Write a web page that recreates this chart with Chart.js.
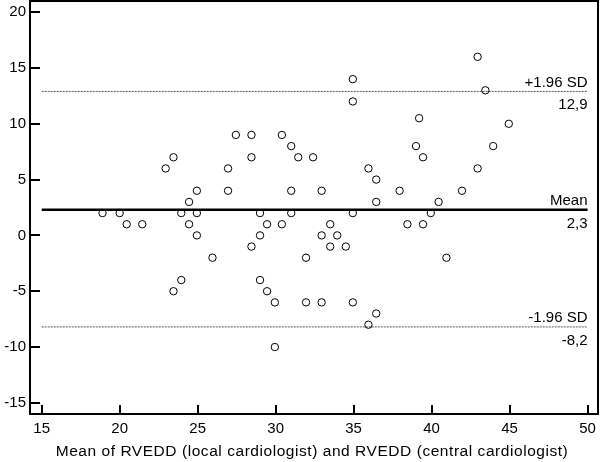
<!DOCTYPE html>
<html>
<head>
<meta charset="utf-8">
<script src="https://cdn.jsdelivr.net/npm/chart.js@4/dist/chart.umd.min.js"></script>
<style>
  html, body { margin: 0; padding: 0; background: #fff; }
  #wrap { width: 600px; height: 462px; }
</style>
</head>
<body>
<div id="wrap"><canvas id="chart" width="600" height="462"></canvas></div>
<script>
// mean of the two readings (x) and their difference (y)
const meanValues = [
  18.9, 20.0, 20.45, 21.45, 22.95, 23.45, 23.45, 23.95, 23.95, 24.45,
  24.45, 24.95, 24.95, 24.95, 25.95, 26.95, 26.95, 27.45, 28.45, 28.45,
  28.45, 29.0, 29.0, 29.0, 29.45, 29.45, 29.95, 29.95, 30.4, 30.4,
  31.0, 31.0, 31.0, 31.45, 31.95, 31.95, 32.4, 32.95, 32.95, 32.95,
  33.5, 33.5, 33.95, 34.5, 34.95, 34.95, 34.95, 34.95, 35.95, 35.95,
  36.45, 36.45, 36.45, 37.95, 38.45, 39.0, 39.2, 39.45, 39.45, 39.95,
  40.45, 40.95, 41.95, 42.95, 42.95, 43.45, 43.95, 44.95
];
const diffValues = [
  2, 2, 1, 1, 6, 7, -5, -4, 2, 3,
  1, 4, 2, 0, -2, 6, 4, 9, 9, 7,
  -1, 2, 0, -4, 1, -5, -6, -10, 9, 1,
  8, 4, 2, 7, -2, -6, 7, 4, 0, -6,
  1, -1, 0, -1, 14, 12, 2, -6, 6, -8,
  5, 3, -7, 4, 1, 8, 10.5, 7, 1, 2,
  3, -2, 4, 16, 6, 13, 8, 10
];

const meanDiff = 2.3;
const upperLimit = 12.9;
const lowerLimit = -8.2;
const lineRange = [15, 50];

const xTicks = [15, 20, 25, 30, 35, 40, 45, 50];
const yTicks = [-15, -10, -5, 0, 5, 10, 15, 20];

const limitLabels = [
  { value: upperLimit, name: "+1.96 SD", text: "12,9" },
  { value: meanDiff, name: "Mean", text: "2,3" },
  { value: lowerLimit, name: "-1.96 SD", text: "-8,2" }
];

const xTitle = "Mean of RVEDD (local cardiologist) and RVEDD (central cardiologist)";

const FONT = "'Liberation Sans', Arial, Helvetica, sans-serif";

function hLine(value) {
  return lineRange.map((x) => ({ x: x, y: value }));
}

const points = meanValues.map((x, i) => ({ x: x, y: diffValues[i] }));

// frame, inward tick marks, limit labels and axis title
const framePlugin = {
  id: "frame",
  afterDraw(chart) {
    const ctx = chart.ctx;
    const area = chart.chartArea;
    const xs = chart.scales.x;
    const ys = chart.scales.y;
    ctx.save();
    ctx.strokeStyle = "#000";
    ctx.lineWidth = 2;
    ctx.strokeRect(area.left, area.top, area.right - area.left, area.bottom - area.top);

    ctx.beginPath();
    xTicks.forEach((v) => {
      const px = Math.round(xs.getPixelForValue(v));
      ctx.moveTo(px, area.bottom);
      ctx.lineTo(px, area.bottom - 9);
    });
    yTicks.forEach((v) => {
      const py = Math.round(ys.getPixelForValue(v));
      ctx.moveTo(area.left, py);
      ctx.lineTo(area.left + 10, py);
    });
    ctx.stroke();

    ctx.fillStyle = "#000";
    ctx.font = "15px " + FONT;
    ctx.textAlign = "right";
    ctx.textBaseline = "alphabetic";
    const rx = xs.getPixelForValue(lineRange[1]);
    limitLabels.forEach((l) => {
      const py = ys.getPixelForValue(l.value);
      ctx.fillText(l.name, rx, py - 4.5);
      ctx.fillText(l.text, rx, py + 18);
    });

    ctx.font = "15.5px " + FONT;
    ctx.letterSpacing = "0.55px";
    ctx.textAlign = "center";
    ctx.fillText(xTitle, 312, 456);
    ctx.restore();
  }
};

const ctx = document.getElementById("chart").getContext("2d");
new Chart(ctx, {
  type: "scatter",
  data: {
    datasets: [
      {
        data: points,
        pointStyle: "circle",
        pointRadius: 3.7,
        pointHoverRadius: 3.7,
        backgroundColor: "rgba(0,0,0,0)",
        borderColor: "#000",
        borderWidth: 1
      },
      {
        type: "line",
        data: hLine(meanDiff),
        borderColor: "#000",
        borderWidth: 2.5,
        pointRadius: 0
      },
      {
        type: "line",
        data: hLine(upperLimit),
        borderColor: "#555",
        borderWidth: 1,
        borderDash: [2, 1],
        pointRadius: 0
      },
      {
        type: "line",
        data: hLine(lowerLimit),
        borderColor: "#555",
        borderWidth: 1,
        borderDash: [2, 1],
        pointRadius: 0
      }
    ]
  },
  options: {
    responsive: false,
    animation: false,
    events: [],
    layout: {
      autoPadding: false,
      padding: { top: 1, right: 2, left: 0, bottom: 0 }
    },
    plugins: {
      legend: { display: false },
      tooltip: { enabled: false }
    },
    scales: {
      x: {
        type: "linear",
        min: 14.25,
        max: 50.67,
        grid: { display: false, drawTicks: false },
        border: { display: false },
        afterBuildTicks: (scale) => {
          scale.ticks = xTicks.map((v) => ({ value: v }));
        },
        afterFit: (scale) => {
          scale.height = 48;
          scale.paddingLeft = 0;
          scale.paddingRight = 0;
        },
        ticks: {
          color: "#000",
          padding: 6,
          maxRotation: 0,
          font: { size: 15, family: FONT }
        }
      },
      y: {
        type: "linear",
        min: -16,
        max: 21,
        grid: { display: false, drawTicks: false },
        border: { display: false },
        afterBuildTicks: (scale) => {
          scale.ticks = yTicks.map((v) => ({ value: v }));
        },
        afterFit: (scale) => {
          scale.width = 30;
          scale.paddingTop = 0;
          scale.paddingBottom = 0;
        },
        ticks: {
          color: "#000",
          padding: 4,
          font: { size: 15, family: FONT }
        }
      }
    }
  },
  plugins: [framePlugin]
});
</script>
</body>
</html>
